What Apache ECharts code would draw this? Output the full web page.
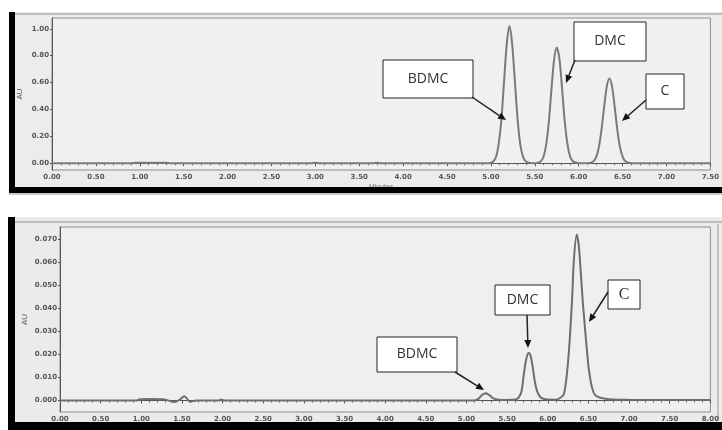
<!DOCTYPE html>
<html style="height: 100%">
   <head>
       <meta charset="utf-8">
   </head>
   <body style="height: 100%; margin: 0; background: #fff">
       <div id="container" style="width: 722px; height: 430px"></div>
       <script type="text/javascript" src="https://cdn.jsdelivr.net/npm/echarts@6/dist/echarts.min.js"></script>
       <script type="text/javascript">
// standards run (top) and sample run (bottom), [minutes, AU]
var topTrace = [
    [0, 0], [0.9, 0], [0.95, 0.004], [1.3, 0.004], [1.35, 0],
    [2.95, 0], [3.0, 0.004], [3.05, 0], [3.65, 0], [3.7, 0.004], [3.75, 0],
    [4.95, 0], [5.00, 0.004], [5.03, 0.015], [5.06, 0.05], [5.09, 0.15], [5.12, 0.33], [5.15, 0.61],
    [5.18, 0.88], [5.21, 1.02], [5.24, 0.90], [5.27, 0.64], [5.30, 0.36], [5.33, 0.16], [5.36, 0.06],
    [5.39, 0.02], [5.43, 0.005], [5.50, 0],
    [5.53, 0.003], [5.57, 0.016], [5.60, 0.05], [5.63, 0.14], [5.66, 0.31], [5.69, 0.55], [5.72, 0.77],
    [5.75, 0.86], [5.78, 0.78], [5.81, 0.56], [5.84, 0.32], [5.87, 0.15], [5.90, 0.055], [5.93, 0.017],
    [5.97, 0.004], [6.05, 0],
    [6.13, 0.003], [6.17, 0.016], [6.20, 0.048], [6.23, 0.12], [6.26, 0.25], [6.29, 0.42], [6.32, 0.57],
    [6.35, 0.63], [6.38, 0.57], [6.41, 0.42], [6.44, 0.25], [6.47, 0.12], [6.50, 0.05], [6.53, 0.017],
    [6.57, 0.004], [6.65, 0], [7.5, 0]
];
var bottomTrace = [
    [0, 0], [0.94, 0], [0.98, 0.0006], [1.1, 0.0007], [1.27, 0.0006], [1.41, -0.0007], [1.47, 0.0003],
    [1.53, 0.0019], [1.6, -0.0005], [1.68, 0], [1.95, 0], [1.98, 0.0004], [2.02, 0],
    [5.10, 0], [5.15, 0.0008], [5.19, 0.0024], [5.24, 0.0032], [5.29, 0.0021], [5.33, 0.0009],
    [5.40, 0.0003], [5.50, 0.0002],
    [5.60, 0.0004], [5.644, 0.0014], [5.677, 0.004], [5.70, 0.0099], [5.726, 0.0164], [5.75, 0.020],
    [5.767, 0.0207], [5.79, 0.0193], [5.816, 0.0142], [5.84, 0.0084], [5.87, 0.004], [5.91, 0.0014],
    [5.97, 0.0005], [6.10, 0.0003],
    [6.155, 0.0012], [6.196, 0.0026], [6.225, 0.0084], [6.25, 0.0171], [6.274, 0.0287], [6.30, 0.0446],
    [6.32, 0.0606], [6.356, 0.0722], [6.38, 0.0678], [6.405, 0.0562], [6.43, 0.0432], [6.454, 0.033],
    [6.479, 0.0229], [6.503, 0.0142], [6.536, 0.007], [6.577, 0.0026], [6.646, 0.0012], [6.75, 0.0006],
    [7.0, 0.0003], [8.0, 0.0002]
];
var topYTicks = [0, 0.2, 0.4, 0.6, 0.8, 1.0];
var bottomYTicks = [0, 0.01, 0.02, 0.03, 0.04, 0.05, 0.06, 0.07];

var dom = document.getElementById("container");
var myChart = echarts.init(dom, null, {renderer: 'canvas'});

var labelStyle = {fontSize: 7, color: '#555', fontFamily: 'DejaVu Sans', fontWeight: 'bold'};
var boxFont = '14px "Open Sans", sans-serif';

function xAxisFor(idx, max, name) {
    return {
        type: 'value', gridIndex: idx, min: 0, max: max, interval: 0.5,
        name: name, nameLocation: 'middle', nameGap: 14, nameMoveOverlap: false,
        nameTextStyle: {fontSize: 7, color: '#777'},
        axisLine: {lineStyle: {color: '#555', width: 1}},
        axisTick: {length: 3, lineStyle: {color: '#555'}},
        minorTick: {show: true, splitNumber: 5, length: 2, lineStyle: {color: '#666'}},
        axisLabel: Object.assign({margin: 4, formatter: function (v) { return v.toFixed(2); }}, labelStyle),
        splitLine: {show: false}
    };
}
function yAxisFor(idx, min, max, ticks, digits, gap) {
    return {
        type: 'value', gridIndex: idx, min: min, max: max,
        name: 'AU', nameLocation: 'middle', nameGap: gap, nameMoveOverlap: false,
        nameTextStyle: {fontSize: 8, color: '#555'},
        axisLine: {show: true, lineStyle: {color: '#555', width: 1}},
        axisTick: {show: true, length: 2, customValues: ticks, lineStyle: {color: '#555'}},
        axisLabel: Object.assign({margin: 3, customValues: ticks, formatter: function (v) { return v.toFixed(digits); }}, labelStyle),
        splitLine: {show: false}
    };
}

function box(x, y, w, h, text, font) {
    return [{
        type: 'rect', z: 100, shape: {x: x, y: y, width: w, height: h},
        style: {fill: '#fff', stroke: '#222', lineWidth: 1}
    }, {
        type: 'text', z: 101, x: x + w / 2, y: y + h / 2,
        style: {text: text, font: font || boxFont, fill: '#333', align: 'center', verticalAlign: 'middle'}
    }];
}
function arrow(x1, y1, x2, y2) {
    var a = Math.atan2(y2 - y1, x2 - x1), L = 8, W = 3.5;
    var bx = x2 - L * Math.cos(a), by = y2 - L * Math.sin(a);
    return [{
        type: 'line', z: 100, shape: {x1: x1, y1: y1, x2: bx, y2: by},
        style: {stroke: '#222', lineWidth: 1.5}
    }, {
        type: 'polygon', z: 100,
        shape: {points: [[x2, y2], [bx + W * Math.sin(a), by - W * Math.cos(a)], [bx - W * Math.sin(a), by + W * Math.cos(a)]]},
        style: {fill: '#111'}
    }];
}

var panels = [
    // top panel frame
    {type: 'rect', z: -10, shape: {x: 9, y: 12, width: 713, height: 181}, style: {fill: '#ececec'}},
    {type: 'line', z: -9, shape: {x1: 15, y1: 14, x2: 722, y2: 14}, style: {stroke: '#bdbdbd', lineWidth: 2}},
    {type: 'rect', z: 50, shape: {x: 9, y: 12, width: 6, height: 181}, style: {fill: '#000'}},
    {type: 'rect', z: 50, shape: {x: 9, y: 187, width: 713, height: 6}, style: {fill: '#000'}},
    {type: 'rect', z: -10, shape: {x: 9, y: 193, width: 713, height: 2}, style: {fill: '#c8c8c8'}},
    // bottom panel frame
    {type: 'rect', z: -10, shape: {x: 8, y: 217, width: 714, height: 213}, style: {fill: '#ebebeb'}},
    {type: 'line', z: -9, shape: {x1: 15, y1: 222, x2: 722, y2: 222}, style: {stroke: '#bdbdbd', lineWidth: 2}},
    {type: 'line', z: -9, shape: {x1: 718, y1: 224, x2: 718, y2: 420}, style: {stroke: '#9a9a9a', lineWidth: 1}},
    {type: 'rect', z: 50, shape: {x: 8, y: 217, width: 7, height: 213}, style: {fill: '#000'}},
    {type: 'rect', z: 50, shape: {x: 8, y: 422, width: 714, height: 8}, style: {fill: '#000'}}
];
var notes = [].concat(
    box(383, 60, 90, 38, 'BDMC'), arrow(472, 97, 506, 120),
    box(574, 22, 72, 39, 'DMC'), arrow(575, 60, 566, 83),
    box(646, 74, 38, 35, 'C'), arrow(646, 100, 622, 121),
    box(377, 337, 80, 35, 'BDMC'), arrow(455, 372, 484, 390),
    box(495, 285, 55, 30, 'DMC'), arrow(527, 315, 528, 348),
    box(608, 280, 32, 29, 'C', '16px "Liberation Serif", serif'), arrow(608, 292, 589, 322)
);

var option = {
    animation: false,
    grid: [
        {left: 52, top: 18, width: 663, height: 152, show: true, backgroundColor: '#f0f0f0', borderColor: '#8c8c8c', borderWidth: 1},
        {left: 60, top: 227, width: 651, height: 185, show: true, backgroundColor: '#efefef', borderColor: '#8c8c8c', borderWidth: 1}
    ],
    xAxis: [xAxisFor(0, 7.5, 'Minutes'), xAxisFor(1, 8, '')],
    yAxis: [
        yAxisFor(0, -0.05, 1.08, topYTicks, 2, 28),
        yAxisFor(1, -0.005, 0.0755, bottomYTicks, 3, 31)
    ],
    graphic: {elements: panels.concat(notes)},
    series: [
        {type: 'line', xAxisIndex: 0, yAxisIndex: 0, data: topTrace, showSymbol: false, smooth: 0.3,
         lineStyle: {color: '#7a7a7a', width: 2}, z: 5},
        {type: 'line', xAxisIndex: 1, yAxisIndex: 1, data: bottomTrace, showSymbol: false, smooth: 0.3,
         lineStyle: {color: '#6e6e6e', width: 2}, z: 5}
    ]
};
if (option && typeof option === "object") {
    myChart.setOption(option, true);
}
       </script>
   </body>
</html>
